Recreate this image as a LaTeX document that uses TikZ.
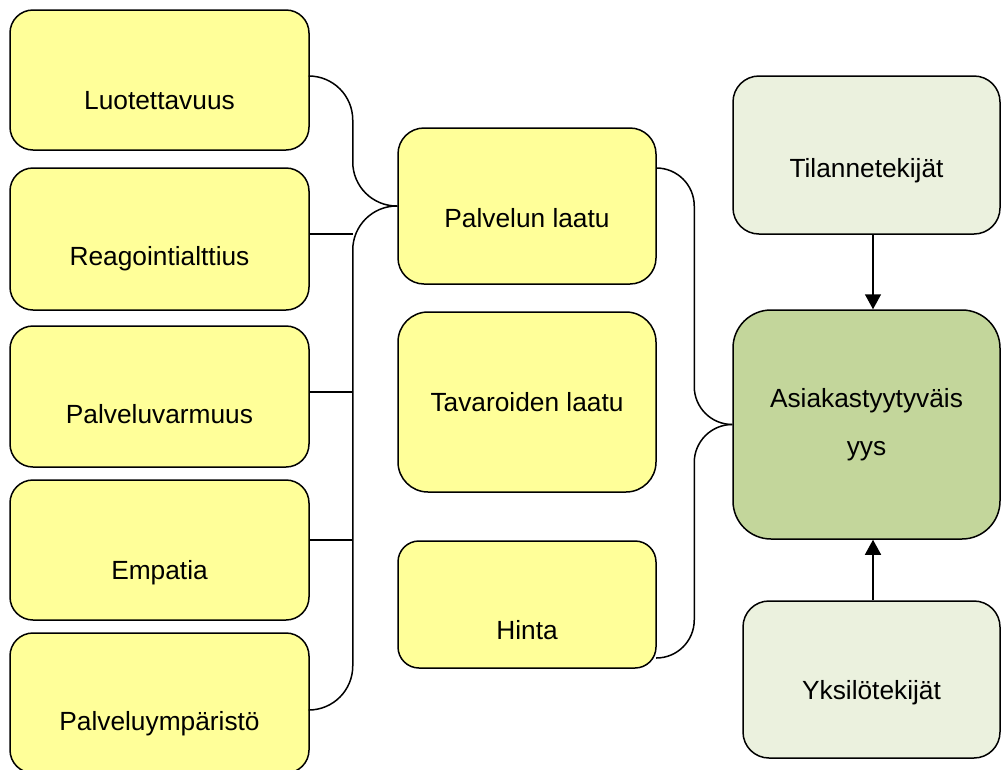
\documentclass[tikz,border=0pt]{standalone}
\usepackage{fontspec}
\setmainfont{Liberation Sans}
\usetikzlibrary{arrows.meta}
\definecolor{boxyellow}{HTML}{FFFF99}
\definecolor{palegreen}{HTML}{EBF1DE}
\definecolor{midgreen}{HTML}{C3D69B}
\tikzset{
  box/.style={draw=black, line width=1.5pt, fill=boxyellow, inner sep=0pt,
    font=\fontsize{26.3}{48}\selectfont},
  lowtext/.style={text height=#1, text depth=6pt},
  link/.style={draw=black, line width=1.5pt},
  arr/.style={link, -{Triangle[length=15pt,width=16pt]}}
}
\begin{document}
\begin{tikzpicture}[x=1pt,y=-1pt]
\useasboundingbox (0,0) rectangle (1002,769);
\node[box, minimum width=299pt, minimum height=140pt, rounded corners=23pt, lowtext=64.8pt] (luot) at (159.5,80) {Luotettavuus};
\node[box, minimum width=299pt, minimum height=142pt, rounded corners=23pt, lowtext=58.8pt] (reag) at (159.5,239) {Reagointialttius};
\node[box, minimum width=299pt, minimum height=141pt, rounded corners=23pt, lowtext=60.8pt] (varm) at (159.5,396.5) {Palveluvarmuus};
\node[box, minimum width=299pt, minimum height=140pt, rounded corners=23pt, lowtext=64.8pt] (empa) at (159.5,550) {Empatia};
\node[box, minimum width=299pt, minimum height=140pt, rounded corners=23pt, lowtext=60.8pt] (ymp) at (159.5,703) {Palveluympäristö};
\node[box, minimum width=258pt, minimum height=156pt, rounded corners=26pt, lowtext=48.8pt] (palv) at (527,206) {Palvelun laatu};
\node[box, minimum width=258pt, minimum height=180pt, rounded corners=30pt, lowtext=24.8pt] (tava) at (527,402) {Tavaroiden laatu};
\node[box, minimum width=258pt, minimum height=127pt, rounded corners=21pt, lowtext=76.8pt] (hint) at (527,604.5) {Hinta};
\node[box, fill=palegreen, minimum width=267pt, minimum height=158pt, rounded corners=26pt, lowtext=50.8pt] (tila) at (866.5,155) {Tilannetekijät};
\node[box, fill=midgreen, minimum width=267pt, minimum height=229pt, rounded corners=38pt, align=center] (asia) at (866.5,424.5) {Asiakastyytyväis\\yys};
\node[box, fill=palegreen, minimum width=257pt, minimum height=157pt, rounded corners=26pt, lowtext=46.8pt] (yksi) at (871.5,679.5) {Yksilötekijät};
\coordinate (lb) at ([xshift=-44.5pt]palv.west);
\coordinate (rb) at ([xshift=-38pt]asia.west);
\draw[link, rounded corners=44pt] ([yshift=4pt]luot.east) -| (lb) -- (palv.west);
\draw[link, rounded corners=44pt] ([yshift=-7pt]ymp.east) -| (lb) -- (palv.west);
\draw[link] ([yshift=5pt]reag.east) -- ([yshift=5pt]reag.east -| lb);
\draw[link] ([yshift=4.5pt]varm.east) -- ([yshift=4.5pt]varm.east -| lb);
\draw[link] ([yshift=10pt]empa.east) -- ([yshift=10pt]empa.east -| lb);
\draw[link, rounded corners=38pt] ([yshift=38pt]palv.east) -| (rb) -- (asia.west);
\draw[link, rounded corners=38pt] ([yshift=-53.5pt]hint.east) -| (rb) -- (asia.west);
\draw[arr] ([xshift=6.5pt]tila.south) -- ([xshift=6.5pt]asia.north);
\draw[arr] ([xshift=1.5pt]yksi.north) -- ([xshift=6.5pt]asia.south);
\end{tikzpicture}
\end{document}
